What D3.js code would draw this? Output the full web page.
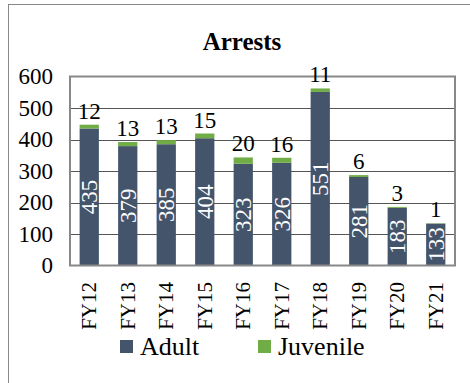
<!DOCTYPE html>
<html>
<head>
  <meta charset="utf-8">
  <title>Arrests</title>
  <style>
    body { margin: 0; background: #fff; }
    text { font-family: "Liberation Serif", "Times New Roman", serif; }
  </style>
</head>
<body>
  <script src="https://cdn.jsdelivr.net/npm/d3@7"></script>
  <script>
    var years = ['FY12', 'FY13', 'FY14', 'FY15', 'FY16', 'FY17', 'FY18', 'FY19', 'FY20', 'FY21'];
    var adult = [435, 379, 385, 404, 323, 326, 551, 281, 183, 133];
    var juvenile = [12, 13, 13, 15, 20, 16, 11, 6, 3, 1];
    var yTicks = [0, 100, 200, 300, 400, 500, 600];
    var seriesNames = ['Adult', 'Juvenile'];

    var W = 470, H = 383;
    var plotL = 70, plotR = 455, plotT = 76.5, plotB = 265.5;
    var colors = ['#44546A', '#70AD47'];

    var svg = d3.select('body').append('svg')
      .attr('width', W).attr('height', H);

    // outer chart frame
    svg.append('rect')
      .attr('x', 8.5).attr('y', 4.5)
      .attr('width', 480).attr('height', 400)
      .attr('fill', 'none').attr('stroke', '#888');

    svg.append('text')
      .attr('x', 242).attr('y', 50)
      .attr('text-anchor', 'middle')
      .style('font-size', '25px').style('font-weight', 'bold')
      .text('Arrests');

    var x = d3.scaleBand().domain(years).range([plotL, plotR])
      .paddingInner(0.5).paddingOuter(0.25);
    var y = d3.scaleLinear().domain([0, 600]).range([plotB, plotT]);

    // gridlines
    svg.append('g').selectAll('line').data(yTicks.slice(1, -1)).enter()
      .append('line')
      .attr('x1', plotL).attr('x2', plotR)
      .attr('y1', d => Math.round(y(d)) + 0.5).attr('y2', d => Math.round(y(d)) + 0.5)
      .attr('stroke', '#555');

    // y axis labels
    var yAxis = svg.append('g')
      .attr('transform', `translate(${plotL},0)`)
      .call(d3.axisLeft(y).tickValues(yTicks).tickSize(0).tickPadding(17));
    yAxis.select('.domain').remove();
    yAxis.selectAll('text')
      .style('font-size', '23px').style('font-family', '"Liberation Serif", serif')
      .attr('fill', '#000');

    var rows = years.map((k, i) => ({ year: k, a: adult[i], j: juvenile[i] }));

    // adult bars
    svg.append('g').selectAll('rect').data(rows).enter().append('rect')
      .attr('x', d => x(d.year)).attr('width', x.bandwidth())
      .attr('y', d => y(d.a)).attr('height', d => y(0) - y(d.a))
      .attr('fill', colors[0]);

    // juvenile bars
    svg.append('g').selectAll('rect').data(rows).enter().append('rect')
      .attr('x', d => x(d.year)).attr('width', x.bandwidth())
      .attr('y', d => y(d.a + d.j)).attr('height', d => y(d.a) - y(d.a + d.j))
      .attr('fill', colors[1]);

    // plot border
    svg.append('rect')
      .attr('x', plotL).attr('y', plotT)
      .attr('width', plotR - plotL).attr('height', plotB - plotT)
      .attr('fill', 'none').attr('stroke', '#888').attr('stroke-width', 2);

    // adult value labels
    svg.append('g').selectAll('text').data(rows).enter().append('text')
      .attr('transform', d => `translate(${x(d.year) + x.bandwidth() / 2 + 8},${y(d.a / 2)}) rotate(-90)`)
      .attr('text-anchor', 'middle')
      .attr('fill', '#fff')
      .style('font-size', '23px')
      .text(d => d.a);

    // juvenile value labels
    svg.append('g').selectAll('text').data(rows).enter().append('text')
      .attr('x', d => x(d.year) + x.bandwidth() / 2)
      .attr('y', d => y(d.a + d.j) - 6)
      .attr('text-anchor', 'middle')
      .style('font-size', '23px')
      .text(d => d.j);

    // category labels
    svg.append('g').selectAll('text').data(years).enter().append('text')
      .attr('transform', d => `translate(${x(d) + x.bandwidth() / 2 + 7},282) rotate(-90)`)
      .attr('text-anchor', 'end')
      .style('font-size', '21px')
      .text(d => d);

    // legend
    var legX = [120, 258];
    var leg = svg.append('g').selectAll('g').data(seriesNames).enter().append('g')
      .attr('transform', (d, i) => `translate(${legX[i]},340)`);
    leg.append('rect').attr('width', 13).attr('height', 13)
      .attr('fill', (d, i) => colors[i]);
    leg.append('text').attr('x', 20).attr('y', 15)
      .style('font-size', '26px')
      .text(d => d);
  </script>
</body>
</html>
